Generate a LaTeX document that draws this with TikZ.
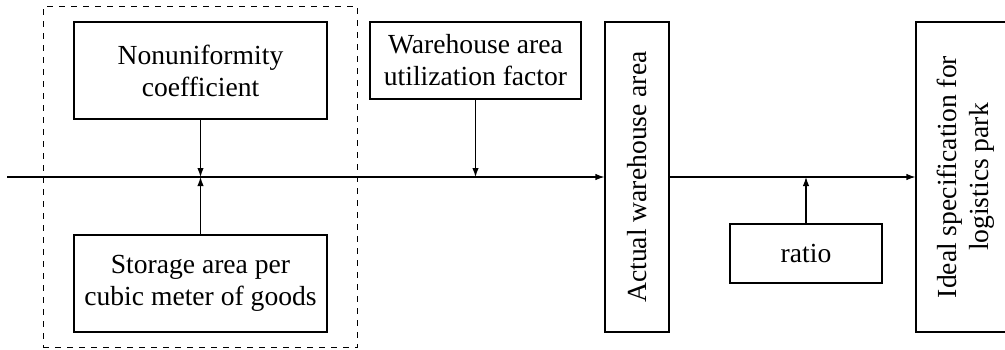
\documentclass[tikz,border=0pt]{standalone}
\usepackage{fontspec}
\setmainfont{Liberation Serif}
\usepackage{tikz}
\usetikzlibrary{arrows.meta, positioning, fit}
\tikzstyle{factor} = [draw, line width=0.55pt, rectangle, align=center, inner sep=0pt, font=\fontsize{13.8}{16}\selectfont]
\tikzstyle{grupo} = [draw, dashed, line width=0.5pt, rectangle, inner xsep=15pt, inner ysep=7.5pt]
\tikzstyle{flecha} = [line width=0.55pt, -{Latex[length=4.5pt,width=3.2pt]}]

\begin{document}
\begin{tikzpicture}[x=0.5pt,y=-0.5pt]
	\useasboundingbox (0,0) rectangle (1005,349);
	\node [factor, minimum width=126.5pt, minimum height=48.5pt] (nonunif) at (200.5,70.5) {Nonuniformity\\coefficient};
	\node [factor, minimum width=126.5pt, minimum height=48.5pt] (storage) at (200.5,283.5) {Storage area per\\cubic meter of goods};
	\node [grupo, fit=(nonunif) (storage)] (group) {};
	\node [factor, minimum width=105.5pt, minimum height=38.5pt] (util) at (475.5,60.5) {Warehouse area\\utilization factor};
	\node [factor, minimum width=32pt, minimum height=155pt] (actual) at (637,177) {\rotatebox{90}{Actual warehouse area}};
	\node [factor, minimum width=76pt, minimum height=29.5pt] (ratio) at (806,253.5) {ratio};
	% box runs past the right edge
	\node [factor, minimum width=62pt, minimum height=155pt] (ideal) at (978,177) {\rotatebox{90}{\begin{tabular}{@{}c@{}}Ideal specification for\\logistics park\end{tabular}}\hspace{12pt}};
	\coordinate (start) at (7,177);
	\coordinate (j1) at (200.5,177);
	\coordinate (j2) at (475.5,177);
	\coordinate (j3) at (806,177);
	\draw [flecha] (start) -- (actual.west);
	\draw [flecha] (actual.east) -- (ideal.west);
	\draw [flecha] (nonunif.south) -- (j1);
	\draw [flecha] (storage.north) -- (j1);
	\draw [flecha] (util.south) -- (j2);
	\draw [flecha] (ratio.north) -- (j3);
\end{tikzpicture}
\end{document}
